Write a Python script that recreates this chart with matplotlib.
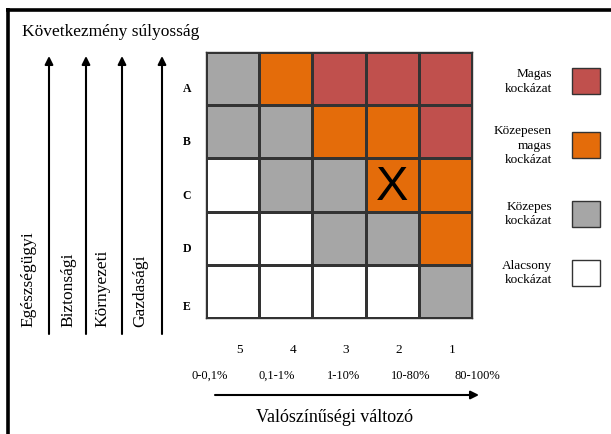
import matplotlib
matplotlib.use("Agg")
import matplotlib.pyplot as plt
from matplotlib.colors import ListedColormap
import numpy as np

# ---------------- data ----------------
severity_labels = ['A', 'B', 'C', 'D', 'E']
probability_labels = ['5', '4', '3', '2', '1']
probability_ranges = ['0-0,1%', '0,1-1%', '1-10%', '10-80%', '80-100%']
consequence_types = ['Egészségügyi', 'Biztonsági', 'Környezeti', 'Gazdasági']
risk_names = ['Alacsony\nkockázat', 'Közepes\nkockázat',
              'Közepesen\nmagas\nkockázat', 'Magas\nkockázat']
risk_colors = ['#FFFFFF', '#A6A6A6', '#E46C0A', '#C0504D']
# risk level codes: 0 = low, 1 = medium, 2 = medium-high, 3 = high
risk_A = [1, 2, 3, 3, 3]
risk_B = [1, 1, 2, 2, 3]
risk_C = [0, 1, 1, 2, 2]
risk_D = [0, 0, 1, 1, 2]
risk_E = [0, 0, 0, 0, 1]
marked_row = 'C'
marked_col = '2'
title_y = 'Következmény súlyosság'
title_x = 'Valószínűségi változó'

W, H = 611, 434
SERIF = 'Liberation Serif'

fig = plt.figure(figsize=(W / 100, H / 100), dpi=100)
fig.patch.set_facecolor('white')

# overlay axes in pixel coordinates
ov = fig.add_axes([0, 0, 1, 1])
ov.set_xlim(0, W)
ov.set_ylim(H, 0)
ov.axis('off')
ov.patch.set_alpha(0)

# frame lines (top and left)
ov.plot([6, W], [9.5, 9.5], color='black', lw=2.6, solid_capstyle='butt')
ov.plot([7.5, 7.5], [8, H], color='black', lw=2.6, solid_capstyle='butt')

# ---------------- grid ----------------
gx0, gy0, gx1, gy1 = 206, 52, 472, 318
ga = fig.add_axes([gx0 / W, 1 - gy1 / H, (gx1 - gx0) / W, (gy1 - gy0) / H])
matrix = np.array([risk_A, risk_B, risk_C, risk_D, risk_E])
cmap = ListedColormap(risk_colors)
ga.pcolormesh(np.arange(6), np.arange(6), matrix, cmap=cmap, vmin=-0.5, vmax=3.5,
              edgecolors='#333333', linewidth=0.9)
ga.set_xlim(0, 5)
ga.set_ylim(5, 0)
ga.set_xticks([])
ga.set_yticks([])
for s in ga.spines.values():
    s.set_color('#333333')
    s.set_linewidth(1.0)

r = severity_labels.index(marked_row)
c = probability_labels.index(marked_col)
ga.text(c + 0.5, r + 0.55, 'X', fontsize=35, family='Liberation Sans',
        ha='center', va='center', color='black')

# row labels
cell_h = (gy1 - gy0) / 5
cell_w = (gx1 - gx0) / 5
row_offsets = [10, 10, 11, 11, 16]
for i, lab in enumerate(severity_labels):
    ov.text(187, gy0 + (i + 0.5) * cell_h + row_offsets[i], lab, family=SERIF,
            fontweight='bold', fontsize=8.5, ha='center', va='center')

# column labels
for i, lab in enumerate(probability_labels):
    ov.text(gx0 + (i + 0.5) * cell_w + 7, 350, lab, family=SERIF,
            fontsize=9.5, ha='center', va='center')
for i, lab in enumerate(probability_ranges):
    ov.text(210 + i * 66.8, 376, lab, family=SERIF,
            fontsize=9, ha='center', va='center')

# bottom arrow + title
ov.annotate('', xy=(479, 395), xytext=(215, 395),
            arrowprops=dict(arrowstyle='-|>', color='black', lw=1.5,
                            mutation_scale=12, shrinkA=0, shrinkB=0))
ov.text(334, 418, title_x, family=SERIF, fontsize=13, ha='center', va='center')

# top-left title
ov.text(22, 32, title_y, family=SERIF, fontsize=12.5, ha='left', va='center')

# vertical arrows and labels
arrow_x = [49, 86, 122, 162]
label_x = [28, 68, 102, 140]
for ax_, lx, lab in zip(arrow_x, label_x, consequence_types):
    ov.annotate('', xy=(ax_, 56), xytext=(ax_, 334),
                arrowprops=dict(arrowstyle='-|>', color='black', lw=1.5,
                                mutation_scale=12, shrinkA=0, shrinkB=0))
    ov.text(lx, 327, lab, family=SERIF, fontsize=12.5, rotation=90,
            ha='center', va='bottom')

# legend
legend_boxes_y = [81, 145, 213.5, 272.5]
legend_order = [3, 2, 1, 0]
for yc, k in zip(legend_boxes_y, legend_order):
    ov.add_patch(plt.Rectangle((571.5, yc - 13), 28.5, 26, facecolor=risk_colors[k],
                               edgecolor='#333333', lw=1.0))
    ov.text(552, yc + 0.5, risk_names[k], family=SERIF, fontsize=9.5,
            ha='right', va='center', multialignment='right', linespacing=1.25)

fig.savefig('out.png', dpi=100, facecolor='white')
